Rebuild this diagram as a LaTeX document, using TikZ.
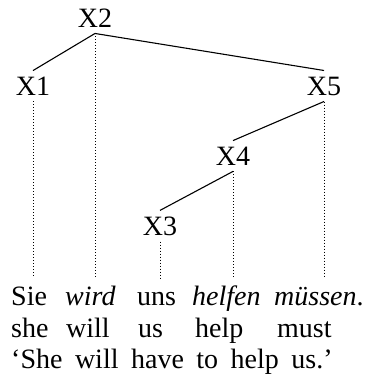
\documentclass[tikz,border=0pt]{standalone}
\usepackage{fontspec}
\setmainfont{Liberation Serif}
\usetikzlibrary{positioning}

\begin{document}
\begin{tikzpicture}[
  x=1pt, y=-1pt,
  font=\fontsize{28}{32}\selectfont,
  cat/.style={inner sep=6pt},
  word/.style={anchor=base west, inner xsep=0pt, inner ysep=7pt, text height=20pt},
  branch/.style={line width=1.1pt},
  trace/.style={dash pattern=on 1pt off 2pt, line width=1pt}
]
\useasboundingbox (0,0) rectangle (367,380);
% tree
\node[cat] (X2) at (95,18) {X2};
\node[cat] (X1) at (33,86) {X1};
\node[cat] (X5) at (324,86) {X5};
\node[cat] (X4) at (233,156) {X4};
\node[cat] (X3) at (160,226) {X3};
% words
\node[word] (sie) at (11,305) {Sie};
\node[word] (wird) at (65,305) {\textit{wird}};
\node[word] (uns) at (137,305) {uns};
\node[word] (helfen) at (192,305) {\textit{helfen}};
\node[word] (muessen) at (274,305) {\textit{müssen}.};
% gloss
\node[word] (she) at (11,337) {she};
\node[word] (will) at (66,337) {will};
\node[word] (us) at (138,337) {us};
\node[word] (help) at (195,337) {help};
\node[word] (must) at (277,337) {must};
\node[word] (transl) at (11,368) {\spaceskip=12.5pt ‘She will have to help us.’};
\draw[branch] (X2.south) -- (X1.north);
\draw[branch] (X2.south) -- (X5.north);
\draw[branch] (X5.south) -- (X4.north);
\draw[branch] (X4.south) -- (X3.north);
\draw[trace] (X1.south) -- (X1.south |- sie.north);
\draw[trace] (X2.south) -- (X2.south |- wird.north);
\draw[trace] (X3.south) -- (X3.south |- uns.north);
\draw[trace] (X4.south) -- (X4.south |- helfen.north);
\draw[trace] (X5.south) -- (X5.south |- muessen.north);
\end{tikzpicture}
\end{document}
